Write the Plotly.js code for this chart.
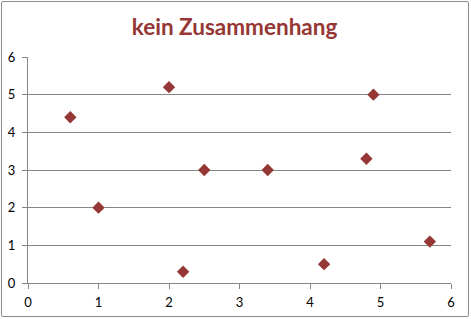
<!DOCTYPE html>
<html>
<head>
<meta charset="utf-8">
<script src="https://cdn.plot.ly/plotly-3.0.1.min.js"></script>
<style>
html,body{margin:0;padding:0;background:#fff;}
#wrap{position:relative;width:471px;height:319px;}
#chart{width:471px;height:319px;}
#frame{position:absolute;left:1px;top:1px;width:466px;height:314px;border:1px solid #8c8c8c;border-radius:2px;pointer-events:none;}
</style>
</head>
<body>
<div id="wrap"><div id="chart"></div><div id="frame"></div></div>
<script>
var xValues = [0.6, 1.0, 2.0, 2.2, 2.5, 3.4, 4.2, 4.8, 4.9, 5.7];
var yValues = [4.4, 2.0, 5.2, 0.3, 3.0, 3.0, 0.5, 3.3, 5.0, 1.1];
var tickVals = [0, 1, 2, 3, 4, 5, 6];
var chartTitle = "kein Zusammenhang";

var trace = {
  x: xValues, y: yValues, type: 'scatter', mode: 'markers',
  marker: {symbol: 'diamond', size: 9.5, color: '#953735'},
  hoverinfo: 'none'
};
var axisCommon = {
  range: [0, 6], tickvals: tickVals, ticks: 'outside', ticklen: 5, tickwidth: 1,
  tickcolor: '#868686', showline: true, linecolor: '#868686', linewidth: 1,
  zeroline: false, tickfont: {family: 'Lato, "Liberation Sans", sans-serif', size: 13, color: '#000'},
  fixedrange: true
};
var layout = {
  width: 471, height: 319,
  margin: {l: 28, r: 20, t: 57, b: 36, pad: 0},
  paper_bgcolor: '#fff', plot_bgcolor: '#fff',
  showlegend: false,
  title: {text: chartTitle, x: 0.498, xref: 'container', xanchor: 'center', y: 0.915, yanchor: 'middle',
    font: {family: 'Lato, "Open Sans", sans-serif', size: 22.5, color: '#953735', weight: 'bold'}},
  xaxis: Object.assign({}, axisCommon, {showgrid: false, ticklabelstandoff: 2}),
  yaxis: Object.assign({}, axisCommon, {showgrid: true, gridcolor: '#868686', gridwidth: 1, ticklabelstandoff: 4})
};
Plotly.newPlot('chart', [trace], layout, {staticPlot: true, displayModeBar: false});
</script>
</body>
</html>
